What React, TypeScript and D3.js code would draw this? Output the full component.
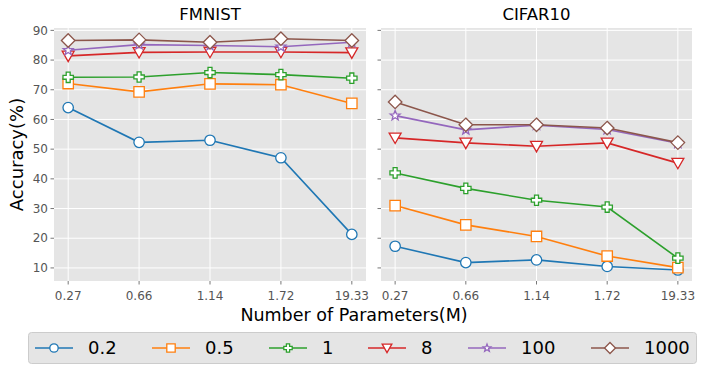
import React from 'react'
import * as d3 from 'd3'

const width = 706
const height = 373

const params = ['0.27', '0.66', '1.14', '1.72', '19.33']
const seriesNames = ['0.2', '0.5', '1', '8', '100', '1000']
const colors = ['#1f77b4', '#ff7f0e', '#2ca02c', '#d62728', '#9467bd', '#8c564b']
const markers = ['circle', 'square', 'plus', 'tri', 'star', 'diamond']
const yTicks = [10, 20, 30, 40, 50, 60, 70, 80, 90]

const fmnist = [
  [64.0, 52.3, 53.0, 47.1, 21.3],
  [72.1, 69.3, 72.0, 71.7, 65.4],
  [74.2, 74.3, 75.8, 75.1, 73.9],
  [81.4, 82.6, 82.7, 82.7, 82.5],
  [83.3, 85.2, 84.9, 84.5, 86.0],
  [86.6, 86.8, 86.0, 87.2, 86.6],
]

const cifar10 = [
  [17.3, 11.8, 12.7, 10.5, 9.3],
  [31.0, 24.5, 20.6, 14.0, 10.1],
  [42.0, 36.8, 32.8, 30.5, 13.3],
  [53.8, 52.1, 51.0, 52.1, 45.3],
  [61.3, 56.5, 58.1, 56.6, 52.0],
  [65.9, 58.2, 58.2, 57.1, 52.2],
]

const panels = [
  { title: 'FMNIST', data: fmnist, x0: 54, x1: 366, labels: true },
  { title: 'CIFAR10', data: cifar10, x0: 381, x1: 692, labels: false },
]

const top = 28
const bottom = 281
const y = d3.scaleLinear().domain([5.6, 90.8]).range([bottom, top])

const markerPath = (kind: string, s: number) => {
  if (kind === 'circle') return d3.symbol(d3.symbolCircle, Math.PI * s * s)()
  if (kind === 'square') return `M${-s},${-s}H${s}V${s}H${-s}Z`
  if (kind === 'diamond') {
    const r = s * 1.3
    return `M0,${-r}L${r},0L0,${r}L${-r},0Z`
  }
  if (kind === 'tri') {
    const r = s * 1.15
    return `M${-r},${-r * 0.8}H${r}L0,${r * 0.95}Z`
  }
  if (kind === 'plus') {
    const a = s, b = s * 0.38
    return `M${-b},${-a}H${b}V${-b}H${a}V${b}H${b}V${a}H${-b}V${b}H${-a}V${-b}H${-b}Z`
  }
  // star
  const pts: string[] = []
  const ro = s * 0.95, ri = ro * 0.42
  for (let i = 0; i < 10; i++) {
    const r = i % 2 === 0 ? ro : ri
    const ang = -Math.PI / 2 + (i * Math.PI) / 5
    pts.push(`${r * Math.cos(ang)},${r * Math.sin(ang)}`)
  }
  return `M${pts.join('L')}Z`
}

const Panel = ({ p }: { p: typeof panels[0] }) => {
  const x = d3.scaleLinear().domain([-0.2, params.length - 1 + 0.2]).range([p.x0, p.x1])
  const line = d3.line<number>().x((_, i) => x(i)).y(d => y(d))
  return (
    <g>
      <rect x={p.x0} y={top} width={p.x1 - p.x0} height={bottom - top} fill="#e5e5e5" />
      {yTicks.map(t => (
        <g key={t}>
          <line x1={p.x0} x2={p.x1} y1={y(t)} y2={y(t)} stroke="#fff" strokeWidth={1} />
          <line x1={p.x0 - 3.5} x2={p.x0} y1={y(t)} y2={y(t)} stroke="#555" strokeWidth={0.8} />
          {p.labels && (
            <text x={p.x0 - 6} y={y(t)} dy="0.35em" textAnchor="end" fontSize={12} fill="#555">{t}</text>
          )}
        </g>
      ))}
      {params.map((l, i) => (
        <g key={l}>
          <line x1={x(i)} x2={x(i)} y1={top} y2={bottom} stroke="#fff" strokeWidth={1} />
          <line x1={x(i)} x2={x(i)} y1={bottom} y2={bottom + 3.5} stroke="#555" strokeWidth={0.8} />
          <text x={x(i)} y={bottom + 15} dy="0.35em" textAnchor="middle" fontSize={12} fill="#555">{l}</text>
        </g>
      ))}
      {p.data.map((s, k) => (
        <g key={k}>
          <path d={line(s) || ''} fill="none" stroke={colors[k]} strokeWidth={1.6} />
          {s.map((v, i) => (
            <path key={i} d={markerPath(markers[k], markers[k] === 'star' ? 5.5 : 5.2)!}
              transform={`translate(${x(i)},${y(v)})`} fill="#fff" stroke={colors[k]} strokeWidth={1.3} />
          ))}
        </g>
      ))}
      <text x={(p.x0 + p.x1) / 2} y={20} textAnchor="middle" fontSize={16.5} fill="#000">{p.title}</text>
    </g>
  )
}

const legendX = [35, 152, 269, 368, 468, 591]

const App = () => (
  <svg width={width} height={height} style={{ position: 'absolute', left: 0, top: 0 }}
    fontFamily="'DejaVu Sans', sans-serif">
    <rect width={width} height={height} fill="#fff" />
    {panels.map(p => <Panel key={p.title} p={p} />)}
    <text transform={`translate(23,${(top + bottom) / 2}) rotate(-90)`} textAnchor="middle" fontSize={18}>Accuracy(%)</text>
    <text x={354} y={321} textAnchor="middle" fontSize={17.5}>Number of Parameters(M)</text>
    <rect x={28.5} y={332.5} width={668} height={31} rx={3} fill="#e5e5e5" stroke="#ccc" strokeWidth={1} />
    {seriesNames.map((n, k) => (
      <g key={n} transform={`translate(${legendX[k]},348)`}>
        <line x1={0} x2={38} y1={0} y2={0} stroke={colors[k]} strokeWidth={1.6} />
        <path d={markerPath(markers[k], 4.2)!} transform="translate(19,0)" fill="#fff" stroke={colors[k]} strokeWidth={1.3} />
        <text x={53} y={0} dy="0.35em" fontSize={18}>{n}</text>
      </g>
    ))}
  </svg>
)

export default App
